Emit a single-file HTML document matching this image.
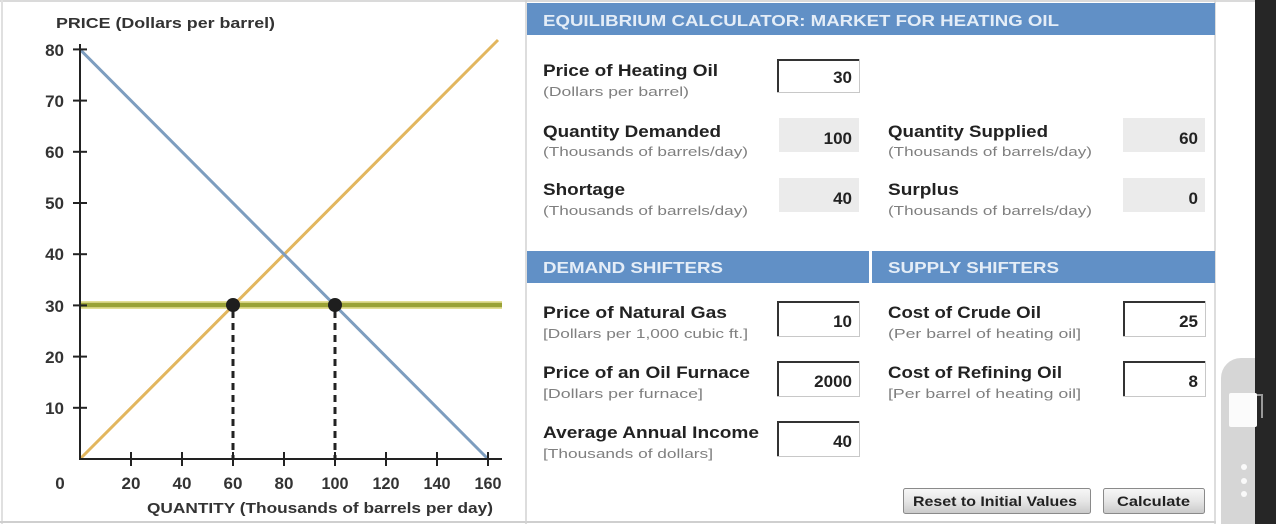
<!DOCTYPE html>
<html>
<head>
<meta charset="utf-8">
<style>
  html,body{margin:0;padding:0;background:#fff;}
  svg{display:block;}
  text{font-family:"Liberation Sans", sans-serif;}
</style>
</head>
<body>
<svg width="1276" height="524" viewBox="0 0 1276 524" xmlns="http://www.w3.org/2000/svg">
  <defs>
    <linearGradient id="btn" x1="0" y1="0" x2="0" y2="1">
      <stop offset="0" stop-color="#f7f7f7"/>
      <stop offset="0.5" stop-color="#e6e6e6"/>
      <stop offset="1" stop-color="#c9c9c9"/>
    </linearGradient>
  </defs>
  <rect x="0" y="0" width="1276" height="524" fill="#fff"/>

  <!-- frame borders -->
  <line x1="0" y1="1" x2="1255" y2="1" stroke="#dadada" stroke-width="2"/>
  <line x1="2" y1="0" x2="2" y2="524" stroke="#e0e0e0" stroke-width="2"/>
  <line x1="0" y1="522" x2="1216" y2="522" stroke="#cfcfcf" stroke-width="2"/>
  <line x1="526" y1="0" x2="526" y2="524" stroke="#d2d2d2" stroke-width="1.5"/>
  <line x1="1215" y1="0" x2="1215" y2="524" stroke="#d2d2d2" stroke-width="1.5"/>

  <!-- ============ CHART ============ -->
  <text x="56" y="28" font-size="15" font-weight="bold" fill="#333" textLength="219" lengthAdjust="spacingAndGlyphs">PRICE (Dollars per barrel)</text>

  <!-- price line glow -->
  <line x1="80" y1="305" x2="502" y2="305" stroke="#e4df96" stroke-width="8"/>
  <line x1="80" y1="305" x2="502" y2="305" stroke="#9aa236" stroke-width="4.5"/>

  <!-- supply & demand -->
  <line x1="80" y1="459" x2="498" y2="40" stroke="#e2b65e" stroke-width="3"/>
  <line x1="80" y1="49.4" x2="488" y2="459" stroke="#7d9dbf" stroke-width="3"/>

  <!-- dashed verticals -->
  <line x1="233" y1="311" x2="233" y2="459" stroke="#222" stroke-width="3" stroke-dasharray="7 5"/>
  <line x1="335" y1="311" x2="335" y2="459" stroke="#222" stroke-width="3" stroke-dasharray="7 5"/>
  <circle cx="233" cy="305" r="7" fill="#1e1e1e"/>
  <circle cx="335" cy="305" r="7" fill="#1e1e1e"/>

  <!-- axes -->
  <line x1="80" y1="44" x2="80" y2="460" stroke="#222" stroke-width="2"/>
  <line x1="79" y1="459" x2="502" y2="459" stroke="#222" stroke-width="2"/>
  <g stroke="#222" stroke-width="2">
    <line x1="73" y1="407.8" x2="87" y2="407.8"/>
    <line x1="73" y1="356.6" x2="87" y2="356.6"/>
    <line x1="73" y1="305.4" x2="87" y2="305.4"/>
    <line x1="73" y1="254.2" x2="87" y2="254.2"/>
    <line x1="73" y1="203" x2="87" y2="203"/>
    <line x1="73" y1="151.8" x2="87" y2="151.8"/>
    <line x1="73" y1="100.6" x2="87" y2="100.6"/>
    <line x1="73" y1="49.4" x2="87" y2="49.4"/>
    <line x1="131" y1="452" x2="131" y2="466"/>
    <line x1="182" y1="452" x2="182" y2="466"/>
    <line x1="233" y1="452" x2="233" y2="466"/>
    <line x1="284" y1="452" x2="284" y2="466"/>
    <line x1="335" y1="452" x2="335" y2="466"/>
    <line x1="386" y1="452" x2="386" y2="466"/>
    <line x1="437" y1="452" x2="437" y2="466"/>
    <line x1="488" y1="452" x2="488" y2="466"/>
  </g>
  <g font-size="17" font-weight="bold" fill="#333" text-anchor="end">
    <text x="64" y="414">10</text>
    <text x="64" y="363">20</text>
    <text x="64" y="312">30</text>
    <text x="64" y="260">40</text>
    <text x="64" y="209">50</text>
    <text x="64" y="158">60</text>
    <text x="64" y="107">70</text>
    <text x="64" y="56">80</text>
  </g>
  <g font-size="17" font-weight="bold" fill="#333" text-anchor="middle">
    <text x="60" y="489">0</text>
    <text x="131" y="489">20</text>
    <text x="182" y="489">40</text>
    <text x="233" y="489">60</text>
    <text x="284" y="489">80</text>
    <text x="335" y="489" textLength="27" lengthAdjust="spacingAndGlyphs">100</text>
    <text x="386" y="489" textLength="27" lengthAdjust="spacingAndGlyphs">120</text>
    <text x="437" y="489" textLength="27" lengthAdjust="spacingAndGlyphs">140</text>
    <text x="488" y="489" textLength="27" lengthAdjust="spacingAndGlyphs">160</text>
  </g>
  <text x="147" y="513" font-size="15" font-weight="bold" fill="#333" textLength="346" lengthAdjust="spacingAndGlyphs">QUANTITY (Thousands of barrels per day)</text>

  <!-- ============ CALCULATOR ============ -->
  <rect x="527" y="3" width="688" height="32" fill="#6190c6"/>
  <text x="543" y="26" font-size="16" font-weight="bold" fill="#e4edf7" textLength="516" lengthAdjust="spacingAndGlyphs">EQUILIBRIUM CALCULATOR: MARKET FOR HEATING OIL</text>

  <rect x="527" y="251" width="342" height="32" fill="#6190c6"/>
  <rect x="872" y="251" width="343" height="32" fill="#6190c6"/>
  <text x="543" y="273" font-size="16" font-weight="bold" fill="#e4edf7" textLength="180" lengthAdjust="spacingAndGlyphs">DEMAND SHIFTERS</text>
  <text x="888" y="273" font-size="16" font-weight="bold" fill="#e4edf7" textLength="171" lengthAdjust="spacingAndGlyphs">SUPPLY SHIFTERS</text>

  <!-- labels -->
  <g font-size="17" font-weight="bold" fill="#222">
    <text x="543" y="76" textLength="175" lengthAdjust="spacingAndGlyphs">Price of Heating Oil</text>
    <text x="543" y="137" textLength="178" lengthAdjust="spacingAndGlyphs">Quantity Demanded</text>
    <text x="543" y="195" textLength="82" lengthAdjust="spacingAndGlyphs">Shortage</text>
    <text x="888" y="137" textLength="160" lengthAdjust="spacingAndGlyphs">Quantity Supplied</text>
    <text x="888" y="195" textLength="71" lengthAdjust="spacingAndGlyphs">Surplus</text>
    <text x="543" y="318" textLength="184" lengthAdjust="spacingAndGlyphs">Price of Natural Gas</text>
    <text x="543" y="378" textLength="207" lengthAdjust="spacingAndGlyphs">Price of an Oil Furnace</text>
    <text x="543" y="438" textLength="216" lengthAdjust="spacingAndGlyphs">Average Annual Income</text>
    <text x="888" y="318" textLength="153" lengthAdjust="spacingAndGlyphs">Cost of Crude Oil</text>
    <text x="888" y="378" textLength="174" lengthAdjust="spacingAndGlyphs">Cost of Refining Oil</text>
  </g>
  <g font-size="13" fill="#7f7f7f">
    <text x="543" y="96" textLength="146" lengthAdjust="spacingAndGlyphs">(Dollars per barrel)</text>
    <text x="543" y="156" textLength="205" lengthAdjust="spacingAndGlyphs">(Thousands of barrels/day)</text>
    <text x="543" y="215" textLength="205" lengthAdjust="spacingAndGlyphs">(Thousands of barrels/day)</text>
    <text x="888" y="156" textLength="204" lengthAdjust="spacingAndGlyphs">(Thousands of barrels/day)</text>
    <text x="888" y="215" textLength="204" lengthAdjust="spacingAndGlyphs">(Thousands of barrels/day)</text>
    <text x="543" y="338" textLength="205" lengthAdjust="spacingAndGlyphs">[Dollars per 1,000 cubic ft.]</text>
    <text x="543" y="398" textLength="160" lengthAdjust="spacingAndGlyphs">[Dollars per furnace]</text>
    <text x="543" y="458" textLength="170" lengthAdjust="spacingAndGlyphs">[Thousands of dollars]</text>
    <text x="888" y="338" textLength="193" lengthAdjust="spacingAndGlyphs">(Per barrel of heating oil]</text>
    <text x="888" y="398" textLength="193" lengthAdjust="spacingAndGlyphs">[Per barrel of heating oil]</text>
  </g>

  <!-- output (gray) boxes -->
  <g fill="#ebebeb">
    <rect x="779" y="118" width="80" height="34"/>
    <rect x="779" y="178" width="80" height="34"/>
    <rect x="1123" y="118" width="82" height="34"/>
    <rect x="1123" y="178" width="82" height="34"/>
  </g>

  <!-- input boxes -->
  <g>
    <g transform="translate(777,59)">
      <rect x="0.5" y="0.5" width="82" height="33" fill="#fff" stroke="#c8c8c8"/>
      <path d="M1 33 V1 H82" fill="none" stroke="#333" stroke-width="2"/>
    </g>
    <g transform="translate(777,301)">
      <rect x="0.5" y="0.5" width="82" height="35" fill="#fff" stroke="#c8c8c8"/>
      <path d="M1 35 V1 H82" fill="none" stroke="#333" stroke-width="2"/>
    </g>
    <g transform="translate(777,361)">
      <rect x="0.5" y="0.5" width="82" height="35" fill="#fff" stroke="#c8c8c8"/>
      <path d="M1 35 V1 H82" fill="none" stroke="#333" stroke-width="2"/>
    </g>
    <g transform="translate(777,421)">
      <rect x="0.5" y="0.5" width="82" height="35" fill="#fff" stroke="#c8c8c8"/>
      <path d="M1 35 V1 H82" fill="none" stroke="#333" stroke-width="2"/>
    </g>
    <g transform="translate(1123,301)">
      <rect x="0.5" y="0.5" width="82" height="35" fill="#fff" stroke="#c8c8c8"/>
      <path d="M1 35 V1 H82" fill="none" stroke="#333" stroke-width="2"/>
    </g>
    <g transform="translate(1123,361)">
      <rect x="0.5" y="0.5" width="82" height="35" fill="#fff" stroke="#c8c8c8"/>
      <path d="M1 35 V1 H82" fill="none" stroke="#333" stroke-width="2"/>
    </g>
  </g>

  <!-- values -->
  <g font-size="17" font-weight="bold" fill="#222" text-anchor="end">
    <text x="852" y="83">30</text>
    <text x="852" y="144">100</text>
    <text x="852" y="204">40</text>
    <text x="1198" y="144">60</text>
    <text x="1198" y="204">0</text>
    <text x="852" y="327">10</text>
    <text x="852" y="387">2000</text>
    <text x="852" y="447">40</text>
    <text x="1198" y="327">25</text>
    <text x="1198" y="387">8</text>
  </g>

  <!-- buttons -->
  <rect x="903.5" y="488.5" width="187" height="25" rx="2" fill="url(#btn)" stroke="#8a8a8a"/>
  <text x="913" y="506" font-size="14" font-weight="bold" fill="#222" textLength="164" lengthAdjust="spacingAndGlyphs">Reset to Initial Values</text>
  <rect x="1103.5" y="488.5" width="101" height="25" rx="2" fill="url(#btn)" stroke="#8a8a8a"/>
  <text x="1117" y="506" font-size="14" font-weight="bold" fill="#222" textLength="73" lengthAdjust="spacingAndGlyphs">Calculate</text>

  <!-- right-side device widgets -->
  <path d="M1241 358 H1276 V524 H1221 V378 A20 20 0 0 1 1241 358 Z" fill="#d6d6d6"/>
  <rect x="1255" y="0" width="21" height="524" fill="#262626"/>
  <path d="M1236 395 H1262 V418" fill="none" stroke="#9a9a9a" stroke-width="2"/>
  <rect x="1229" y="393" width="28" height="34" rx="2" fill="#fbfbfb"/>
  <circle cx="1244" cy="467" r="3" fill="#fafafa"/>
  <circle cx="1244" cy="481" r="3" fill="#fafafa"/>
  <circle cx="1244" cy="494" r="3" fill="#fafafa"/>
</svg>
</body>
</html>
